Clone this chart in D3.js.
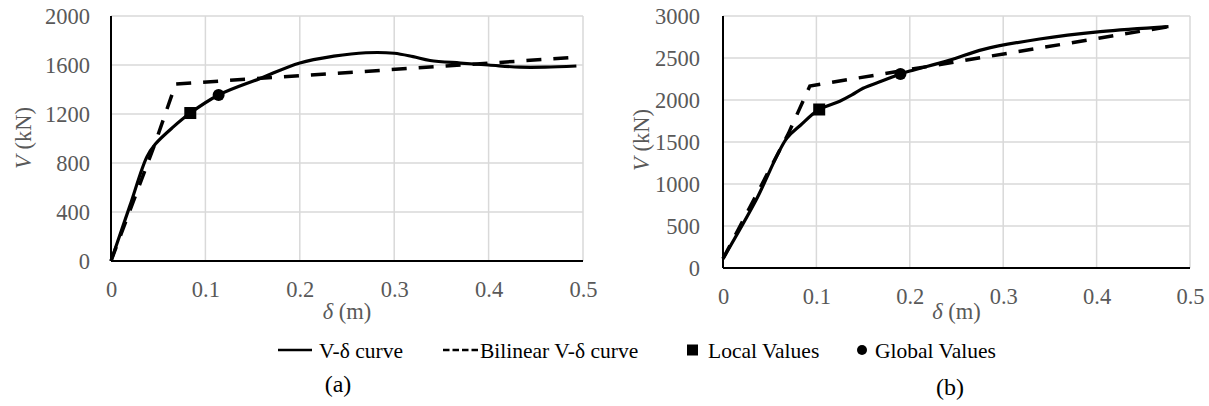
<!DOCTYPE html>
<html>
<head>
<meta charset="utf-8">
<script src="https://cdn.jsdelivr.net/npm/d3@7"></script>
</head>
<body style="margin:0; background:#fff">
<script>
// ticks
const xTicks = [0, 0.1, 0.2, 0.3, 0.4, 0.5]
const yTicksA = [0, 400, 800, 1200, 1600, 2000]
const yTicksB = [0, 500, 1000, 1500, 2000, 2500, 3000]

// (a) V-δ curve
const curveA_d = [0, 0.02, 0.038, 0.047, 0.066, 0.084, 0.114, 0.158, 0.2, 0.236, 0.27, 0.3, 0.32, 0.338, 0.37, 0.4, 0.433, 0.46, 0.493]
const curveA_V = [0, 450, 850, 955, 1095, 1208, 1355, 1490, 1617, 1672, 1700, 1696, 1668, 1637, 1616, 1600, 1582, 1582, 1592]
// (a) bilinear
const bilinA_d = [0, 0.046, 0.0685, 0.493]
const bilinA_V = [0, 945, 1445, 1663]
const localA = [0.084, 1208]
const globalA = [0.114, 1355]

// (b) V-δ curve
const curveB_d = [0, 0.035, 0.068, 0.083, 0.103, 0.125, 0.138, 0.15, 0.17, 0.19, 0.2, 0.243, 0.279, 0.339, 0.404, 0.477]
const curveB_V = [110, 800, 1540, 1700, 1887, 1985, 2060, 2140, 2225, 2310, 2345, 2475, 2603, 2726, 2813, 2873]
// (b) bilinear
const bilinB_d = [0, 0.07, 0.093, 0.477]
const bilinB_V = [110, 1600, 2167, 2873]
const localB = [0.103, 1887]
const globalB = [0.19, 2310]

const legendLabels = ['V-δ curve', 'Bilinear V-δ curve', 'Local Values', 'Global Values']

const zip = (xs, ys) => xs.map((x, i) => [x, ys[i]])

const svg = d3.select('body').append('svg')
    .attr('width', 1209)
    .attr('height', 406)
    .style('background', '#fff')

const grey = '#595959'

const panel = c => {
    const x = d3.scaleLinear().domain([0, 0.5]).range(c.xr)
    const y = d3.scaleLinear().domain(c.yd).range(c.yr)
    const g = svg.append('g')

    // gridlines
    g.selectAll('.gx').data(xTicks.slice(1)).enter().append('line')
        .attr('x1', d => x(d)).attr('x2', d => x(d))
        .attr('y1', y.range()[0]).attr('y2', y.range()[1])
        .attr('stroke', '#d9d9d9').attr('stroke-width', 1.5)
    g.selectAll('.gy').data(c.yTicks.slice(1)).enter().append('line')
        .attr('y1', d => y(d)).attr('y2', d => y(d))
        .attr('x1', x.range()[0]).attr('x2', x.range()[1])
        .attr('stroke', '#d9d9d9').attr('stroke-width', 1.5)

    // axes (labels only, lines drawn below)
    const ax = g.append('g').attr('transform', 'translate(0,' + y(0) + ')')
        .call(d3.axisBottom(x).tickValues(xTicks).tickFormat(d => d).tickSize(0).tickPadding(20))
    const ay = g.append('g').attr('transform', 'translate(' + x(0) + ',0)')
        .call(d3.axisLeft(y).tickValues(c.yTicks).tickFormat(d => d).tickSize(0).tickPadding(c.ypad))
    ;[ax, ay].forEach(a => {
        a.select('.domain').remove()
        a.selectAll('text').attr('fill', grey).style('font-size', '22.5px')
    })

    g.append('line')
        .attr('x1', x(0)).attr('x2', x(0.5)).attr('y1', y(0)).attr('y2', y(0))
        .attr('stroke', '#000').attr('stroke-width', 2)
    g.append('line')
        .attr('x1', x(0)).attr('x2', x(0)).attr('y1', y(0)).attr('y2', y.range()[1])
        .attr('stroke', '#000').attr('stroke-width', 2)

    // curves
    const line = d3.line().x(d => x(d[0])).y(d => y(d[1]))
    g.append('path')
        .datum(zip(c.bd, c.bV))
        .attr('d', line)
        .attr('fill', 'none')
        .attr('stroke', '#000')
        .attr('stroke-width', 3.5)
        .attr('stroke-dasharray', '15 12')
    g.append('path')
        .datum(zip(c.cd, c.cV))
        .attr('d', line.curve(d3.curveCatmullRom.alpha(0.5)))
        .attr('fill', 'none')
        .attr('stroke', '#000')
        .attr('stroke-width', 3.2)
        .attr('stroke-linejoin', 'round')

    // markers
    g.append('rect')
        .attr('x', x(c.local[0]) - 6).attr('y', y(c.local[1]) - 6)
        .attr('width', 12).attr('height', 12)
        .attr('fill', '#000')
    g.append('circle')
        .attr('cx', x(c.global[0])).attr('cy', y(c.global[1]))
        .attr('r', 6)
        .attr('fill', '#000')

    // axis titles
    const ty = g.append('text')
        .attr('transform', 'translate(' + c.ytitle[0] + ',' + c.ytitle[1] + ') rotate(-90)')
        .attr('text-anchor', 'middle')
        .attr('dy', '0.35em')
        .attr('fill', grey)
        .style('font-size', '22.5px')
    ty.append('tspan').style('font-style', 'italic').text('V')
    ty.append('tspan').text(' (kN)')

    const tx = g.append('text')
        .attr('x', (x(0) + x(0.5)) / 2).attr('y', c.xtitleY)
        .attr('text-anchor', 'middle')
        .attr('dy', '0.35em')
        .attr('fill', grey)
        .style('font-size', '22.5px')
    tx.append('tspan').style('font-style', 'italic').text('δ')
    tx.append('tspan').text(' (m)')

    svg.append('text')
        .attr('x', c.tag[0]).attr('y', c.tag[1])
        .attr('text-anchor', 'middle')
        .attr('dy', '0.35em')
        .attr('fill', '#000')
        .style('font-size', '24px')
        .text(c.tagText)
}

panel({
    xr: [111, 583], yd: [0, 2000], yr: [261, 16], yTicks: yTicksA, ypad: 21,
    cd: curveA_d, cV: curveA_V, bd: bilinA_d, bV: bilinA_V, local: localA, global: globalA,
    ytitle: [23, 138], xtitleY: 311, tag: [338, 384], tagText: '(a)'
})
panel({
    xr: [723, 1190], yd: [0, 3000], yr: [268, 16], yTicks: yTicksB, ypad: 23,
    cd: curveB_d, cV: curveB_V, bd: bilinB_d, bV: bilinB_V, local: localB, global: globalB,
    ytitle: [641, 140], xtitleY: 311, tag: [950, 387], tagText: '(b)'
})

// legend
const lg = svg.append('g')
const ly = 350
lg.append('line').attr('x1', 278).attr('x2', 312).attr('y1', ly).attr('y2', ly)
    .attr('stroke', '#000').attr('stroke-width', 2.5)
lg.append('line').attr('x1', 443).attr('x2', 478).attr('y1', ly).attr('y2', ly)
    .attr('stroke', '#000').attr('stroke-width', 2.5).attr('stroke-dasharray', '6.5 3')
lg.append('rect').attr('x', 687).attr('y', ly - 5.5).attr('width', 11).attr('height', 11).attr('fill', '#000')
lg.append('circle').attr('cx', 862).attr('cy', ly).attr('r', 5).attr('fill', '#000')
lg.selectAll('.lt').data(legendLabels).enter().append('text')
    .attr('x', (d, i) => [319, 480, 708, 875][i])
    .attr('y', ly)
    .attr('dy', '0.35em')
    .attr('fill', '#000')
    .style('font-size', '21.5px')
    .text(d => d)

// serif everywhere (inline style wins over the axis' own font attribute)
svg.selectAll('text').style('font-family', "'Liberation Serif', serif")
</script>
</body>
</html>
